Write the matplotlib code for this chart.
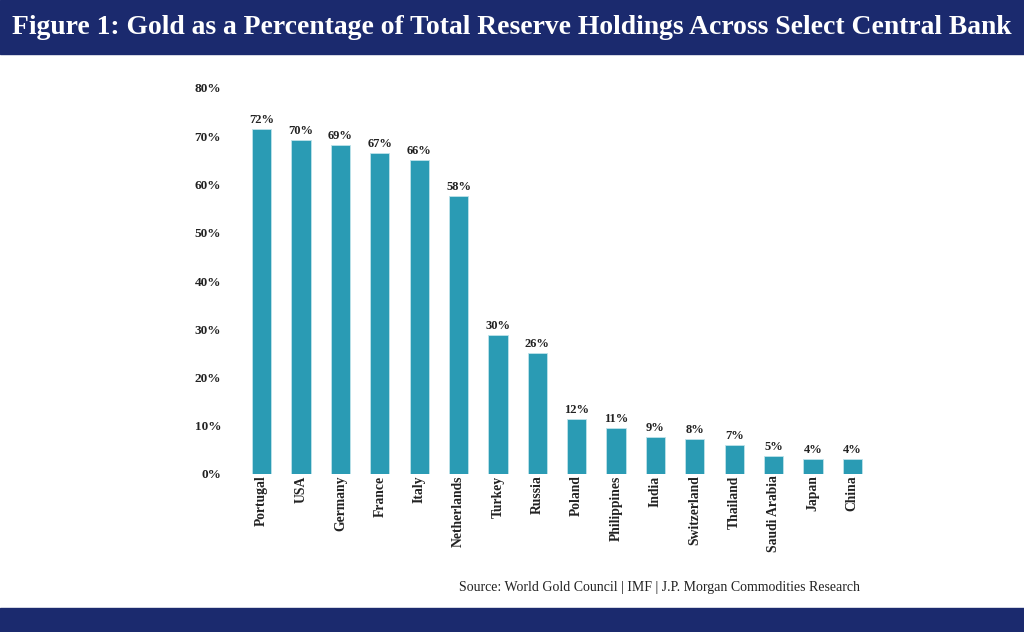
import matplotlib.pyplot as plt
import numpy as np

plt.rcParams["font.family"] = "Liberation Serif"
plt.rcParams["font.weight"] = "bold"

countries = ["Portugal", "USA", "Germany", "France", "Italy", "Netherlands",
             "Turkey", "Russia", "Poland", "Philippines", "India", "Switzerland",
             "Thailand", "Saudi Arabia", "Japan", "China"]
gold_pct = [71.5, 69.2, 68.2, 66.5, 65.1, 57.6, 28.8, 25.1,
            11.4, 9.5, 7.7, 7.3, 6.0, 3.7, 3.1, 3.1]
bar_labels = ["72%", "70%", "69%", "67%", "66%", "58%", "30%", "26%",
              "12%", "11%", "9%", "8%", "7%", "5%", "4%", "4%"]
yticks = [0, 10, 20, 30, 40, 50, 60, 70, 80]

navy = "#1b2a6e"
teal = "#2a9bb4"

fig = plt.figure(figsize=(10.24, 6.32), dpi=100)
fig.patch.set_facecolor("white")

# title banner and bottom strip
fig.patches.append(plt.Rectangle((0, 1 - 54 / 632), 1, 54 / 632, transform=fig.transFigure,
                                 color=navy, zorder=0))
fig.patches.append(plt.Rectangle((0, 0), 1, 24 / 632, transform=fig.transFigure,
                                 color=navy, zorder=0))
fig.text(0.5, 1 - 28 / 632, "Figure 1: Gold as a Percentage of Total Reserve Holdings Across Select Central Bank",
         color="white", fontsize=19.9, fontweight="bold", ha="center", va="center")

ax = fig.add_axes([242 / 1024, 158 / 632, 630 / 1024, (474 - 88) / 632])
x = np.arange(len(countries))
ax.bar(x, gold_pct, width=0.49, color=teal, edgecolor="#bfe3ea", linewidth=0.6)
for xi, v, lab in zip(x, gold_pct, bar_labels):
    ax.annotate(lab, (xi, v), xytext=(0, 2), textcoords="offset points",
                ha="center", va="bottom", fontsize=9, fontweight="bold", color="#222222")

ax.set_xlim(-0.5, len(countries) - 0.5)
ax.set_ylim(0, 80)
ax.set_yticks(yticks)
ax.set_yticklabels([f"{t}%" for t in yticks])
ax.set_xticks(x)
ax.set_xticklabels(countries, rotation=90)
ax.tick_params(axis="y", length=0, pad=15, labelsize=9.5, labelcolor="#222222")
ax.tick_params(axis="x", length=0, pad=1, labelsize=9.8, labelcolor="#222222")
for spine in ax.spines.values():
    spine.set_visible(False)

fig.text(860 / 1024, 1 - 588 / 632, "Source: World Gold Council | IMF | J.P. Morgan Commodities Research",
         fontsize=10, fontweight="normal", ha="right", va="center", color="#222222")

plt.savefig("out.png", dpi=100)
plt.close()
